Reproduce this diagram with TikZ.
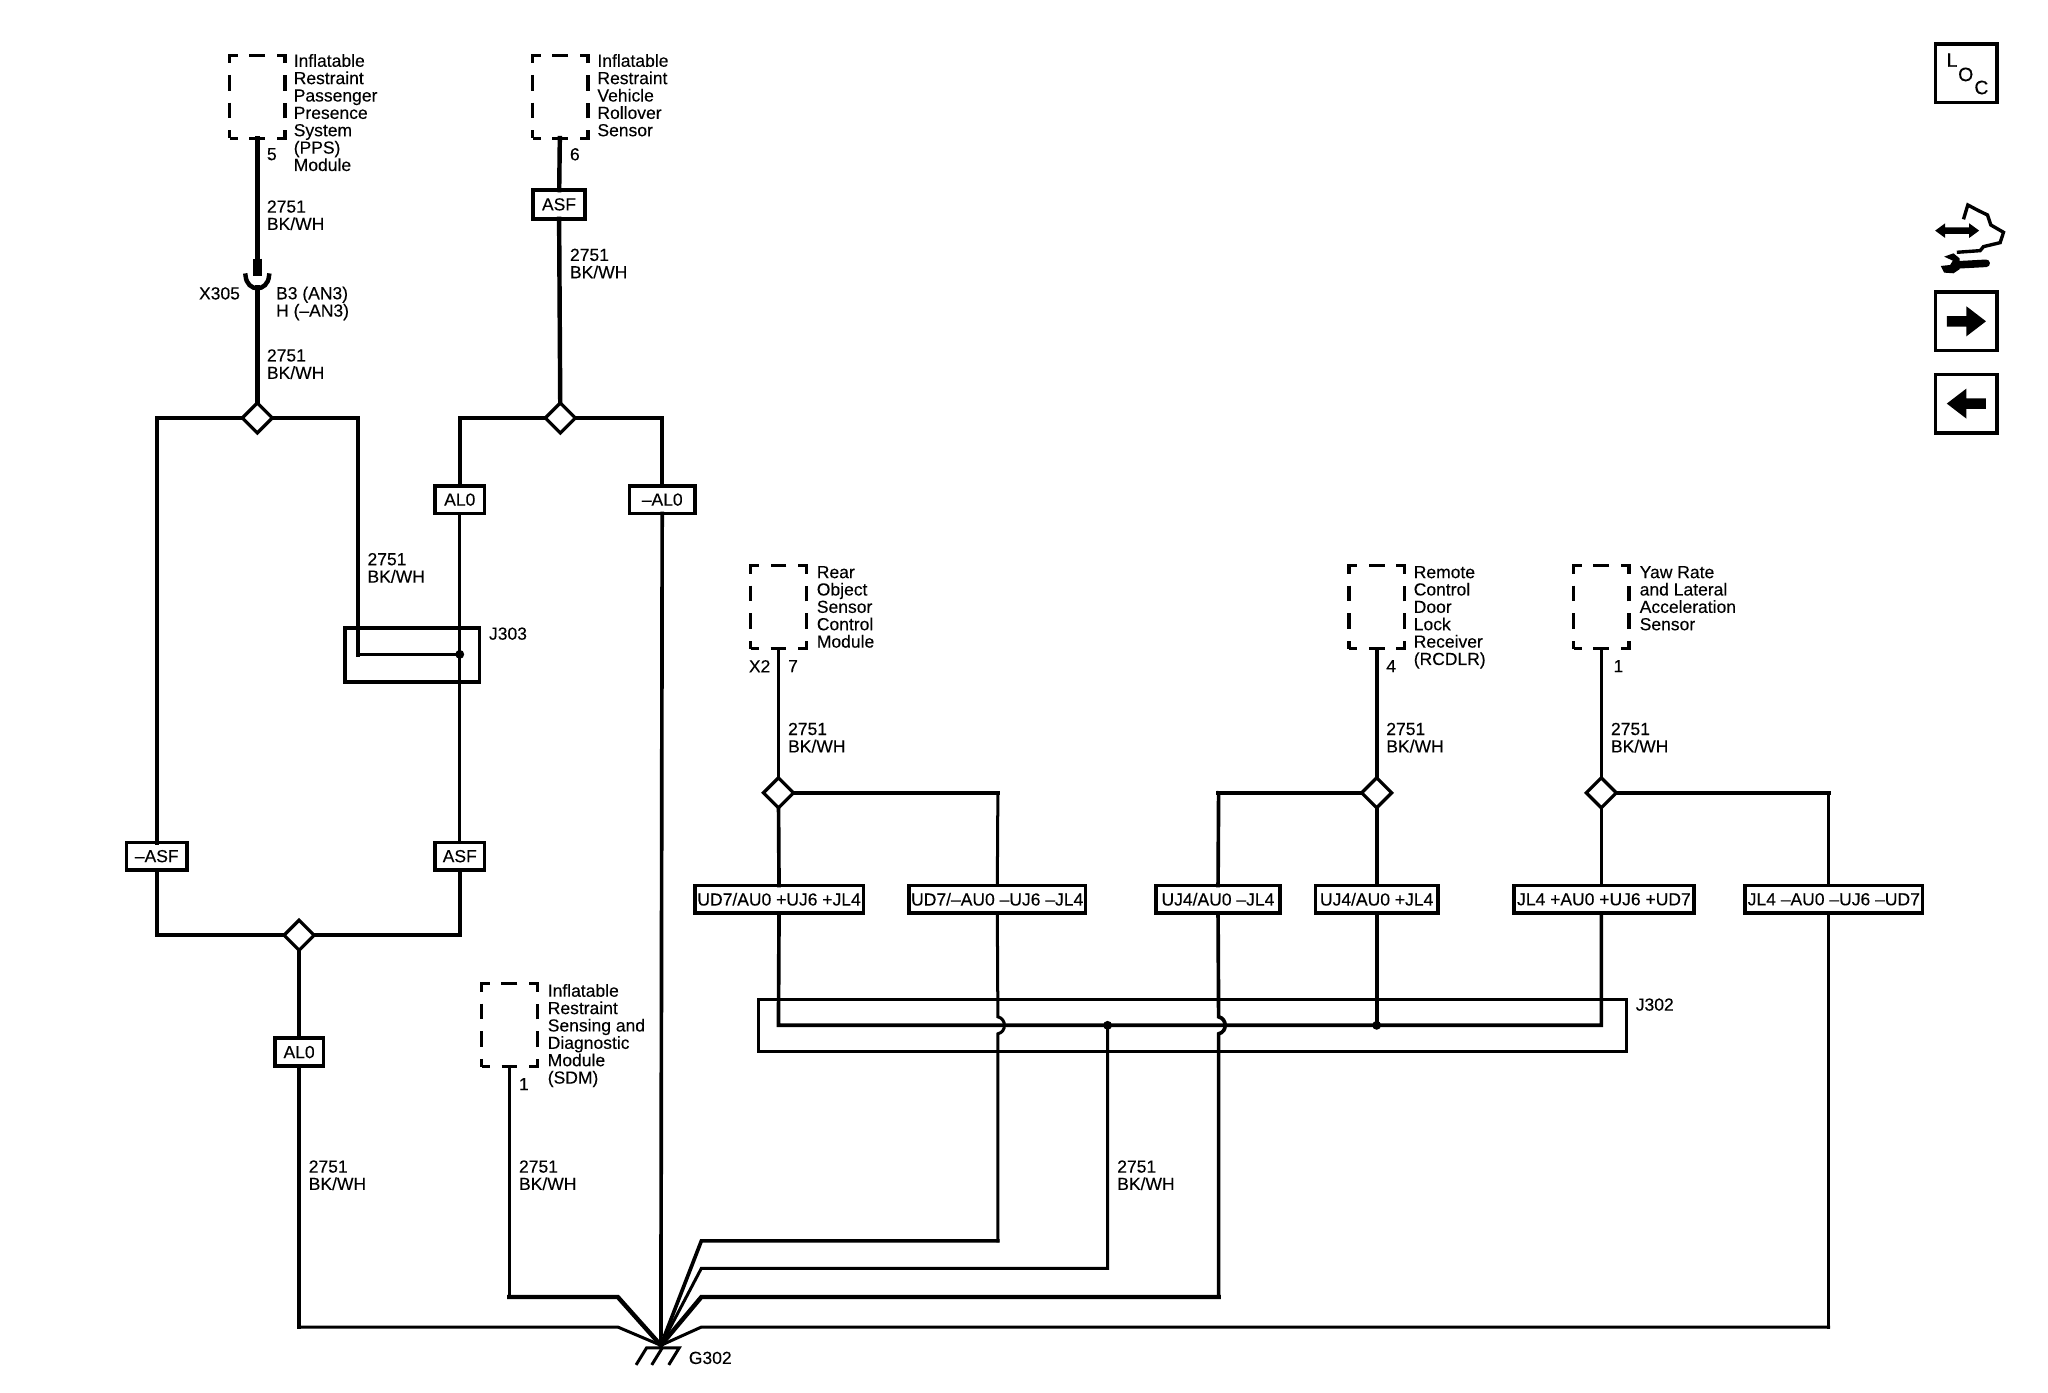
\documentclass[tikz,border=0pt]{standalone}
\usepackage{fontspec}
\setmainfont{Liberation Sans}[FakeBold=0.2]
\usetikzlibrary{shapes.geometric}
\tikzset{
  wirethin/.style={line width=1.15pt, line cap=rect},
  wiremid/.style={line width=1.4pt, line cap=rect},
  wirethick/.style={line width=1.7pt, line cap=rect},
  lab/.style={inner sep=0pt, anchor=north west, align=left},
  modbox/.style={draw, line width=1.2pt, minimum width=21.2pt, minimum height=31.8pt, inner sep=0pt, outer sep=0pt, dash pattern=on 6.05pt off 4.55pt, dash phase=3.02pt},
  optbox/.style={draw, fill=white, line width=1.35pt, minimum height=10.6pt, inner sep=0pt, outer sep=0pt},
  junc/.style={diamond, draw, fill=white, line width=1.25pt, minimum width=11.5pt, minimum height=11.5pt, inner sep=0pt, outer sep=0pt},
  splice/.style={circle, fill=black, minimum size=3.4pt, inner sep=0pt, outer sep=0pt},
  blockbox/.style={draw, line width=1.2pt, inner sep=0pt, outer sep=0pt},
  iconbox/.style={draw, line width=1.35pt, minimum width=23.6pt, minimum height=22.4pt, inner sep=0pt, outer sep=0pt}
}
\begin{document}
\begin{tikzpicture}[x=0.5pt, y=-0.5pt, font=\fontsize{6.7}{6.65}\selectfont, line join=miter]
	\useasboundingbox (0,0) rectangle (1568,1066);
	% modules
	\foreach \ten/\xx/\yy in {mPPS/197/74, mRoll/429/74, mRear/596/465, mRCD/1054/465, mYaw/1226/465, mSDM/390/785}
		\node[modbox] (\ten) at (\xx,\yy) {};
	\node[lab] (tPPS) at (224.5,41) {Inflatable\\Restraint\\Passenger\\Presence\\System\\(PPS)\\Module};
	\node[lab] (tRoll) at (457,41) {Inflatable\\Restraint\\Vehicle\\Rollover\\Sensor};
	\node[lab] (tRear) at (625,433) {Rear\\Object\\Sensor\\Control\\Module};
	\node[lab] (tRCD) at (1082,433) {Remote\\Control\\Door\\Lock\\Receiver\\(RCDLR)};
	\node[lab] (tYaw) at (1255,433) {Yaw Rate\\and Lateral\\Acceleration\\Sensor};
	\node[lab] (tSDM) at (419,753) {Inflatable\\Restraint\\Sensing and\\Diagnostic\\Module\\(SDM)};
	% pins
	\foreach \ten/\xx/\yy/\txt in {pa/204/113/5, pb/436/113/6, pc/573/505/X2, pd/603/505/7, pe/1061/505/4, pf/1235/505/1, pg/397/825/1}
		\node[lab] (\ten) at (\xx,\yy) {\txt};
	% wire labels
	\foreach \ten/\xx/\yy in {wa/204/153, wb/436/190, wc/204/267, wd/281/423, we/603/553, wf/1061/553, wg/1233/553, wh/236/888, wi/397/888, wj/855/888}
		\node[lab] (\ten) at (\xx,\yy) {2751\\BK/WH};
	\node[lab] (tX) at (152,219.5) {X305};
	\node[lab] (tB) at (211,219) {B3 (AN3)\\H (–AN3)};
	% option boxes
	\node[optbox, line width=1.6pt, minimum width=20pt, minimum height=11pt] (oASFt) at (428,156.5) {ASF};
	\foreach \ten/\xx/\yy/\bw/\txt in {oALa/352/382.5/19/AL0, oALb/507/382.5/25/–AL0, oASFl/120/655.5/23/–ASF, oASFr/352/655.5/19/ASF, oALc/229/805.5/18.5/AL0, oUDa/596.5/688.5/64.5/{UD7/AU0 +UJ6 +JL4}, oUDb/763.5/688.5/67.5/{UD7/–AU0 –UJ6 –JL4}, oUJa/932.5/688.5/47.5/{UJ4/AU0 –JL4}, oUJb/1054/688.5/47/{UJ4/AU0 +JL4}, oJLa/1228/688.5/69/{JL4 +AU0 +UJ6 +UD7}, oJLb/1404/688.5/68/{JL4 –AU0 –UJ6 –UD7}}
		\node[optbox, minimum width=\bw pt] (\ten) at (\xx,\yy) {\txt};
	% junctions
	\foreach \ten/\xx/\yy in {dPPS/197/320, dRoll/429/320, dLow/229/716, dRear/596/607, dRCD/1054/607, dYaw/1226/607}
		\node[junc] (\ten) at (\xx,\yy) {};
	% splice blocks
	\node[blockbox, line width=1.4pt, minimum width=51.5pt, minimum height=20.5pt] (bJa) at (315.5,501.5) {};
	\node[blockbox, minimum width=332pt, minimum height=20pt] (bJb) at (913,785) {};
	\node[lab] (tJa) at (374,480) {J303};
	\node[lab] (tJb) at (1252,764) {J302};
	\node[splice] (sJa) at (352,501) {};
	\node[splice] (sJb) at (848,785) {};
	\node[splice] (sJc) at (1054,785) {};
	% free ends
	\path (197,198) coordinate (xTop)
		(197,211) coordinate (xMid)
		(197,220) coordinate (xLow)
		(274,501) coordinate (cJa)
		(596,785) coordinate (cL)
		(1226,785) coordinate (cR)
		(764,778.5) coordinate (hA)
		(764,791.5) coordinate (hB)
		(933,778.5) coordinate (kA)
		(933,791.5) coordinate (kB)
		(1400,688) coordinate (cX)
		(506,1030) coordinate (gnd)
		(473,1016) coordinate (gA)
		(473,993) coordinate (gB)
		(537,950) coordinate (gC)
		(537,971) coordinate (gD)
		(537,993) coordinate (gE)
		(537,1016) coordinate (gF)
		(764,950) coordinate (gCc)
		(933,993) coordinate (gEc)
		(1400,1016) coordinate (gFc)
		(229,1016) coordinate (gAc)
		(390,993) coordinate (gBc)
		(764,607) coordinate (eR)
		(933,607) coordinate (eU)
		(1400,607) coordinate (eY);
	% top and left feeds
	\draw[wirethick] (mPPS) -- (xTop);
	\draw[wirethick] (xLow) -- (dPPS);
	\draw[wirethick] (mRoll) -- (oASFt);
	\draw[wirethick] (oASFt) -- (dRoll);
	\draw[line width=3.4pt] (xTop) -- (xMid);
	\draw[wirethick] (188,211) .. controls (189,224) and (205,224) .. (206,211);
	\draw[wirethick] (dPPS) -| (oASFl);
	\draw[wirethick] (dPPS) -| (cJa);
	\draw[wirethick] (dRoll) -| (oALa);
	\draw[wirethick] (dRoll) -| (oALb);
	\draw[wiremid] (oASFl) |- (dLow);
	\draw[wiremid] (dLow) -| (oASFr);
	\draw[wirethin] (oALa) -- (oASFr);
	\draw[wirethin] (cJa) -- (sJa);
	\draw[wiremid] (oALb) -- (gnd);
	\draw[wiremid] (dLow) -- (oALc);
	% right feeds
	\draw[wirethick] (dRear) -- (eR);
	\draw[wirethick] (dRCD) -- (eU);
	\draw[wirethick] (dYaw) -- (eY);
	\draw[wirethin] (eR) -- (oUDb);
	\draw[wiremid] (eU) -- (oUJa);
	\draw[wiremid] (eY) -- (cX |- oJLb.north);
	\draw[wiremid] (mRear) -- (dRear);
	\draw[wiremid] (dRear) -- (oUDa);
	\draw[wiremid] (mRCD) -- (dRCD);
	\draw[wiremid] (dRCD) -- (oUJb);
	\draw[wiremid] (oUJb) -- (sJc);
	\draw[wirethin] (mYaw) -- (dYaw);
	\draw[wirethin] (dYaw) -- (dYaw |- oJLa.north);
	\draw[wiremid] (oUDa) -- (cL) -- (cR) -- (dYaw |- oJLa.south);
	% down to ground
	\draw[wirethin] (oUDb) -- (hA) .. controls (770.7,780) and (770.7,790) .. (hB) -- (gCc);
	\draw[wiremid] (gCc) -- (gC) -- (gnd);
	\draw[wiremid] (oUJa) -- (kA) .. controls (939.7,780) and (939.7,790) .. (kB) -- (gEc);
	\draw[wirethick] (gEc) -- (gE) -- (gnd);
	\draw[wirethin] (sJb) |- (gD) -- (gnd);
	\draw[wiremid] (cX |- oJLb.south) -- (gFc);
	\draw[wirethin] (gFc) -- (gF) -- (gnd);
	\draw[wiremid] (oALc) -- (gAc);
	\draw[wirethin] (gAc) -- (gA) -- (gnd);
	\draw[wiremid] (mSDM) -- (gBc);
	\draw[wirethick] (gBc) -- (gB) -- (gnd);
	% ground
	\draw[line width=1.15pt] (487,1045) -- (495,1032) -- (520,1032) -- (512,1045);
	\draw[line width=1.15pt] (507,1032) -- (499,1045);
	\node[lab] (tG) at (527,1034.5) {G302};
	% side icons
	\node[iconbox] (iLoc) at (1505.5,56) {};
	\node[font=\fontsize{7.4}{7.4}\selectfont, inner sep=0pt] (iL) at (1494.5,46) {L};
	\node[font=\fontsize{7.4}{7.4}\selectfont, inner sep=0pt] (iO) at (1505,57) {O};
	\node[font=\fontsize{7.4}{7.4}\selectfont, inner sep=0pt] (iC) at (1517,67) {C};
	\node[iconbox] (iNext) at (1505.5,246) {};
	\node[iconbox] (iPrev) at (1505.5,309) {};
	\fill (1490.5,242) -- (1505.5,242) -- (1505.5,234.5) -- (1520.5,246) -- (1505.5,257.5) -- (1505.5,250) -- (1490.5,250) -- cycle;
	\fill (1520.5,305) -- (1505.5,305) -- (1505.5,297.5) -- (1490.5,309) -- (1505.5,320.5) -- (1505.5,313) -- (1520.5,313) -- cycle;
	\begin{scope}[shift={(1454.8,15.3)}, x=0.1276pt, y=-0.1276pt]
		\fill (105,632) -- (135,610) -- (135,622) -- (207,622) -- (207,610) -- (237,632) -- (207,654) -- (207,642) -- (135,642) -- (135,654) -- cycle;
		\draw[line width=1.3pt] (190,598) -- (203,555) -- (235,572) -- (262,585) -- (272,615) -- (310,637) -- (300,668) -- (250,680) -- (240,692) -- (170,697);
		\draw[line width=2.9pt, line cap=round] (165,735) -- (258,730);
		\fill (132,710) -- (160,700) -- (178,715) -- (178,748) -- (160,760) -- (132,758) -- (122,738) -- (150,735) -- (158,722) -- cycle;
	\end{scope}
\end{tikzpicture}
\end{document}
